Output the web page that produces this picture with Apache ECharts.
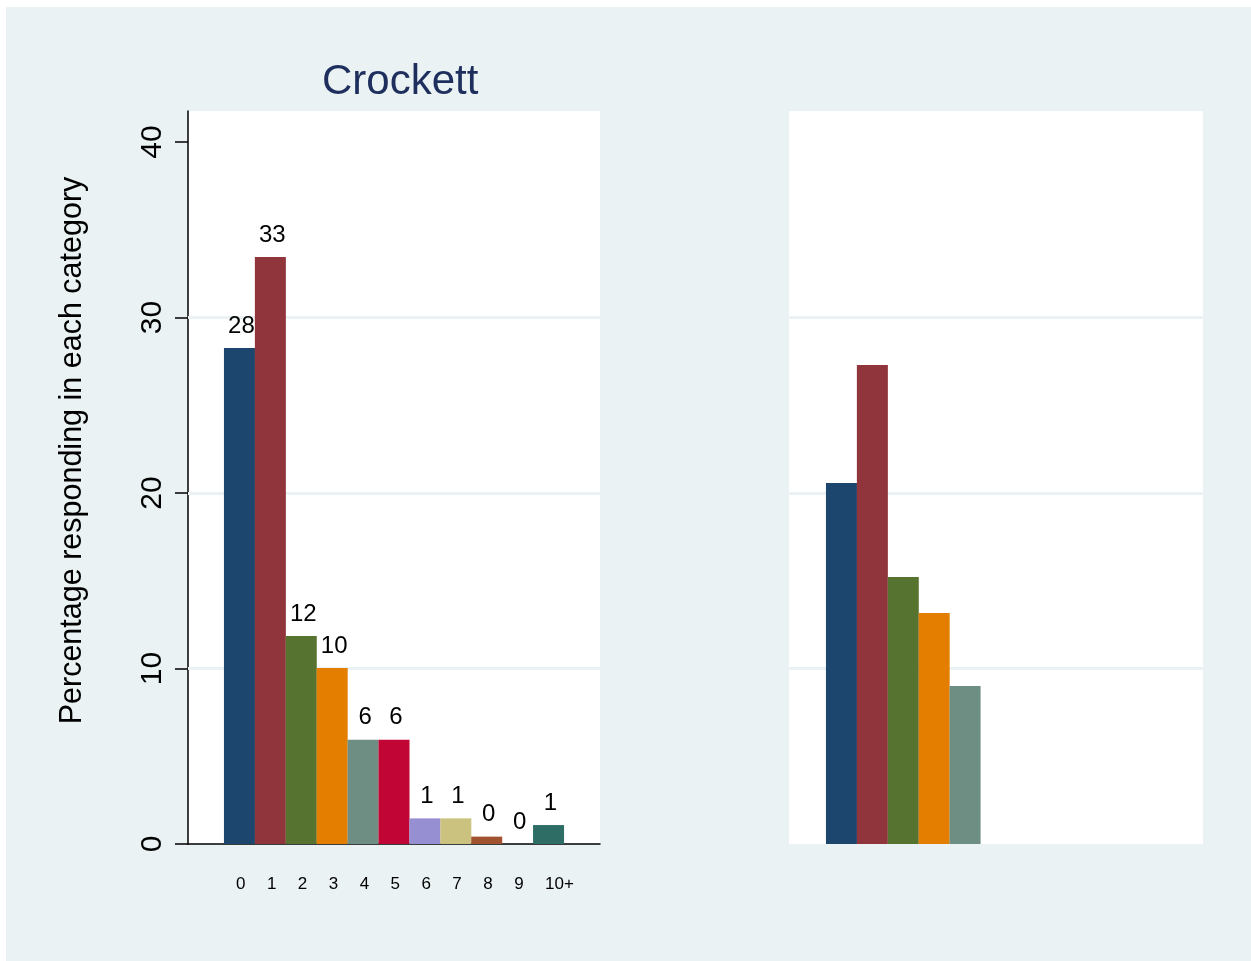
<!DOCTYPE html>
<html>
<head>
<meta charset="utf-8">
<script src="https://cdn.jsdelivr.net/npm/echarts@6/dist/echarts.min.js"></script>
<style>
html,body{margin:0;padding:0;background:#fff;width:1251px;height:961px;overflow:hidden;}
#chart{position:absolute;left:6px;top:7px;width:1245px;height:954px;}
</style>
</head>
<body>
<div id="chart"></div>
<script>
const categories = ['0','1','2','3','4','5','6','7','8','9','10+'];
const leftValues = [28.26, 33.45, 11.85, 10.03, 5.94, 5.94, 1.46, 1.46, 0.42, 0, 1.08];
const leftLabels = ['28','33','12','10','6','6','1','1','0','0','1'];
const rightValues = [20.57, 27.29, 15.21, 13.16, 9.0];
const barColors = ['#1c466e','#90353c','#56742f','#e37e00','#6f8e83','#c10535','#968fd1','#cbc27f','#a1522e','#7b92a8','#2d6d66'];
const yTickValues = [0, 10, 20, 30, 40];
const gridValues = [10, 20, 30];
const yMax = 41.77;

const FONT = 'Liberation Sans, Arial, Helvetica, sans-serif';
const chart = echarts.init(document.getElementById('chart'));

const gTop = 104, gHeight = 733;
const hiddenY = i => ({type:'value', gridIndex:i, min:0, max:yMax, show:false});
const hiddenX = (i, mx) => ({type:'value', gridIndex:i, min:0, max:mx, show:false});

const gridMark = {
  silent: true, symbol: 'none', z: 1, animation: false,
  label: {show: false},
  lineStyle: {color: '#eaf2f3', width: 3, type: 'solid'},
  emphasis: {disabled: true},
  data: gridValues.map(v => ({yAxis: v}))
};

chart.setOption({
  backgroundColor: '#eaf2f3',
  animation: false,
  textStyle: {fontFamily: FONT},
  title: {
    text: 'Crockett', left: 316, top: 54, padding: 0,
    textStyle: {fontFamily: FONT, fontSize: 42, fontWeight: 'normal', color: '#1e2f5d'}
  },
  grid: [
    {left: 182, top: gTop, width: 412, height: gHeight, show: true, backgroundColor: '#ffffff', borderWidth: 0},
    {left: 218, top: gTop, width: 340, height: gHeight},
    {left: 783, top: gTop, width: 414, height: gHeight, show: true, backgroundColor: '#ffffff', borderWidth: 0},
    {left: 820, top: gTop, width: 340, height: gHeight}
  ],
  xAxis: [
    {type:'value', gridIndex:0, min:0, max:1,
     axisLine:{show:true, onZero:false, lineStyle:{color:'#000', width:1.5}},
     axisTick:{show:false}, axisLabel:{show:false}, splitLine:{show:false}},
    {type:'value', gridIndex:1, min:0, max:categories.length,
     axisLine:{show:false}, axisTick:{show:false}, splitLine:{show:false},
     axisLabel:{show:true, customValues: categories.map((c,i)=>i),
       formatter: v => categories[Math.round(v)] || '',
       align:'left', padding:[0,0,0,12], margin:32,
       fontSize:17, color:'#000', fontFamily: FONT}},
    hiddenX(2, 1),
    hiddenX(3, categories.length)
  ],
  yAxis: [
    {type:'value', gridIndex:0, min:0, max:yMax,
     axisLine:{show:true, lineStyle:{color:'#000', width:1.5}},
     axisTick:{show:true, length:13, customValues: yTickValues, lineStyle:{color:'#000', width:1.5}},
     axisLabel:{show:true, customValues: yTickValues, rotate:90, margin:20, fontSize:30, color:'#000', fontFamily: FONT},
     splitLine:{show:false},
     name:'Percentage responding in each category', nameLocation:'middle', nameGap:100,
     nameTextStyle:{fontSize:30.5, color:'#000', fontFamily: FONT, padding:[0,0,0,54]}},
    hiddenY(1),
    hiddenY(2),
    hiddenY(3)
  ],
  series: [
    {type:'line', xAxisIndex:0, yAxisIndex:0, data:[], silent:true, markLine: gridMark},
    {type:'line', xAxisIndex:2, yAxisIndex:2, data:[], silent:true, markLine: gridMark},
    {type:'bar', xAxisIndex:1, yAxisIndex:1, barWidth: 31, z: 2,
     data: leftValues.map((v,i) => ({value:[i+0.5, v], itemStyle:{color: barColors[i]}})),
     label:{show:true, position:'top', distance:10, offset:[2,0], fontSize:24, color:'#000', fontFamily: FONT,
       formatter: p => leftLabels[p.dataIndex]},
     emphasis:{disabled:true}},
    {type:'bar', xAxisIndex:3, yAxisIndex:3, barWidth: 31, z: 2,
     data: rightValues.map((v,i) => ({value:[i+0.5, v], itemStyle:{color: barColors[i]}})),
     emphasis:{disabled:true}}
  ]
});
</script>
</body>
</html>
